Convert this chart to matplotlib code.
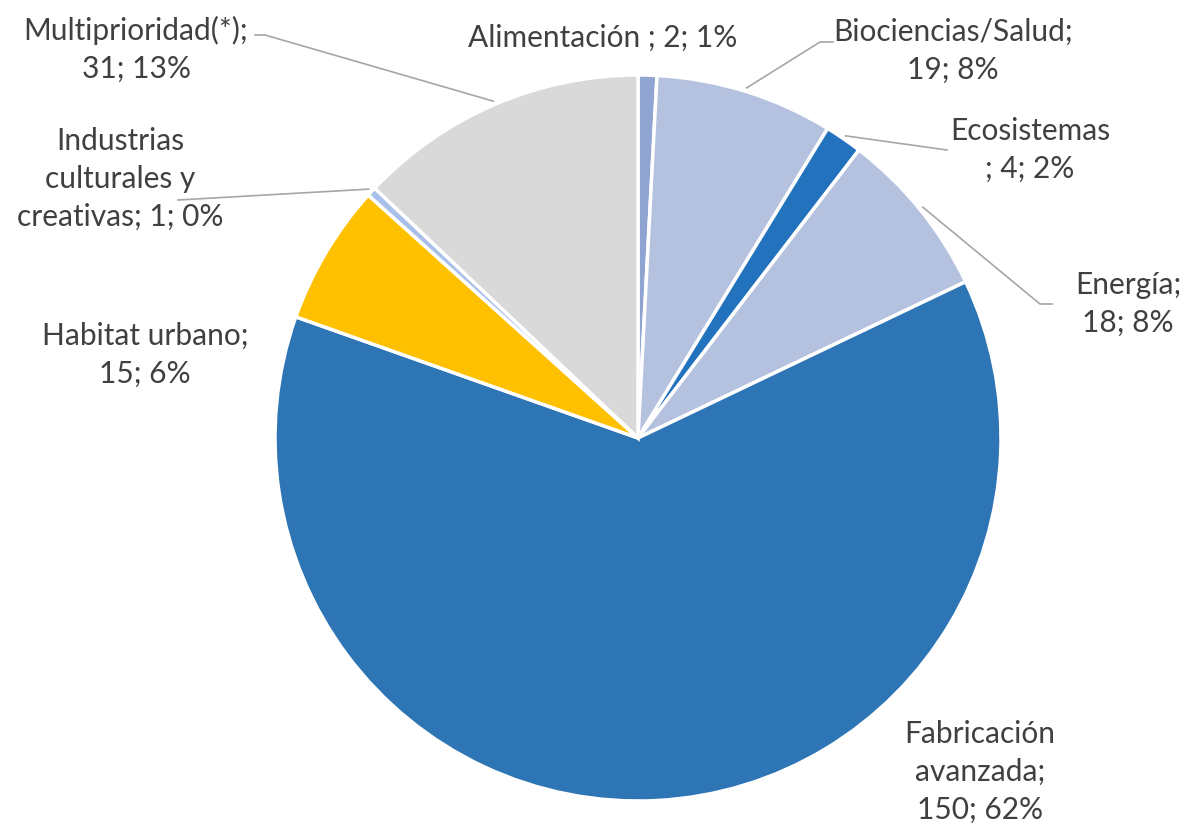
import numpy as np
import matplotlib.pyplot as plt

categorias = ['Alimentación ', 'Biociencias/Salud', 'Ecosistemas\n', 'Energía',
              'Fabricación\navanzada', 'Habitat urbano', 'Industrias\nculturales y\ncreativas',
              'Multiprioridad(*)']
valores = [2, 19, 4, 18, 150, 15, 1, 31]
colores = ['#8FA4D1', '#B4C1DF', '#2372BD', '#B4C1DF', '#2E75B5', '#FFC000', '#A9C0EA', '#D9D9D9']

# etiquetas: texto ya partido en lineas como en el original
textos = ['Alimentación ; 2; 1%', 'Biociencias/Salud;\n19; 8%', 'Ecosistemas\n; 4; 2%',
          'Energía;\n18; 8%', 'Fabricación\navanzada;\n150; 62%', 'Habitat urbano;\n15; 6%',
          'Industrias\nculturales y\ncreativas; 1; 0%', 'Multiprioridad(*);\n31; 13%']
# posicion del texto (px, desde arriba) y codo de la linea guia (None = sin linea)
pos_txt = [(603, 38), (953, 51), (1030, 150), (1128, 304), (980, 772), (145, 355),
           (120, 179), (136, 49)]
codos = [None, [(820, 42), (833, 42)], [(947, 150)], [(1040, 304), (1052, 304)], None, None,
         [(178, 200)], [(265, 35), (255, 35)]]

W, H = 1192, 825
cx, cy, r = 638, 438, 363

fig = plt.figure(figsize=(W / 100, H / 100), dpi=100)
ax = fig.add_axes([0, 0, 1, 1])

ax.pie(valores, colors=colores, startangle=90, counterclock=False,
       center=(cx, H - cy), radius=r, frame=True,
       wedgeprops=dict(edgecolor='white', linewidth=2.5))
ax.set_xlim(0, W)
ax.set_ylim(0, H)
ax.set_aspect('equal')
ax.axis('off')

total = sum(valores)
acum = np.cumsum([0] + valores)
for i, t in enumerate(textos):
    x, y = pos_txt[i]
    ax.text(x, H - y, t, ha='center', va='center', fontsize=21.5, color='#404040',
            family='Lato', linespacing=1.42)
    if codos[i] is not None:
        ang = np.deg2rad((acum[i] + valores[i] / 2) / total * 360)
        x0 = cx + r * 1.01 * np.sin(ang)
        y0 = cy - r * 1.01 * np.cos(ang)
        pts = [(x0, y0)] + codos[i]
        ax.plot([p[0] for p in pts], [H - p[1] for p in pts], color='#A6A6A6', lw=1.2)

fig.savefig('out.png', dpi=100)
